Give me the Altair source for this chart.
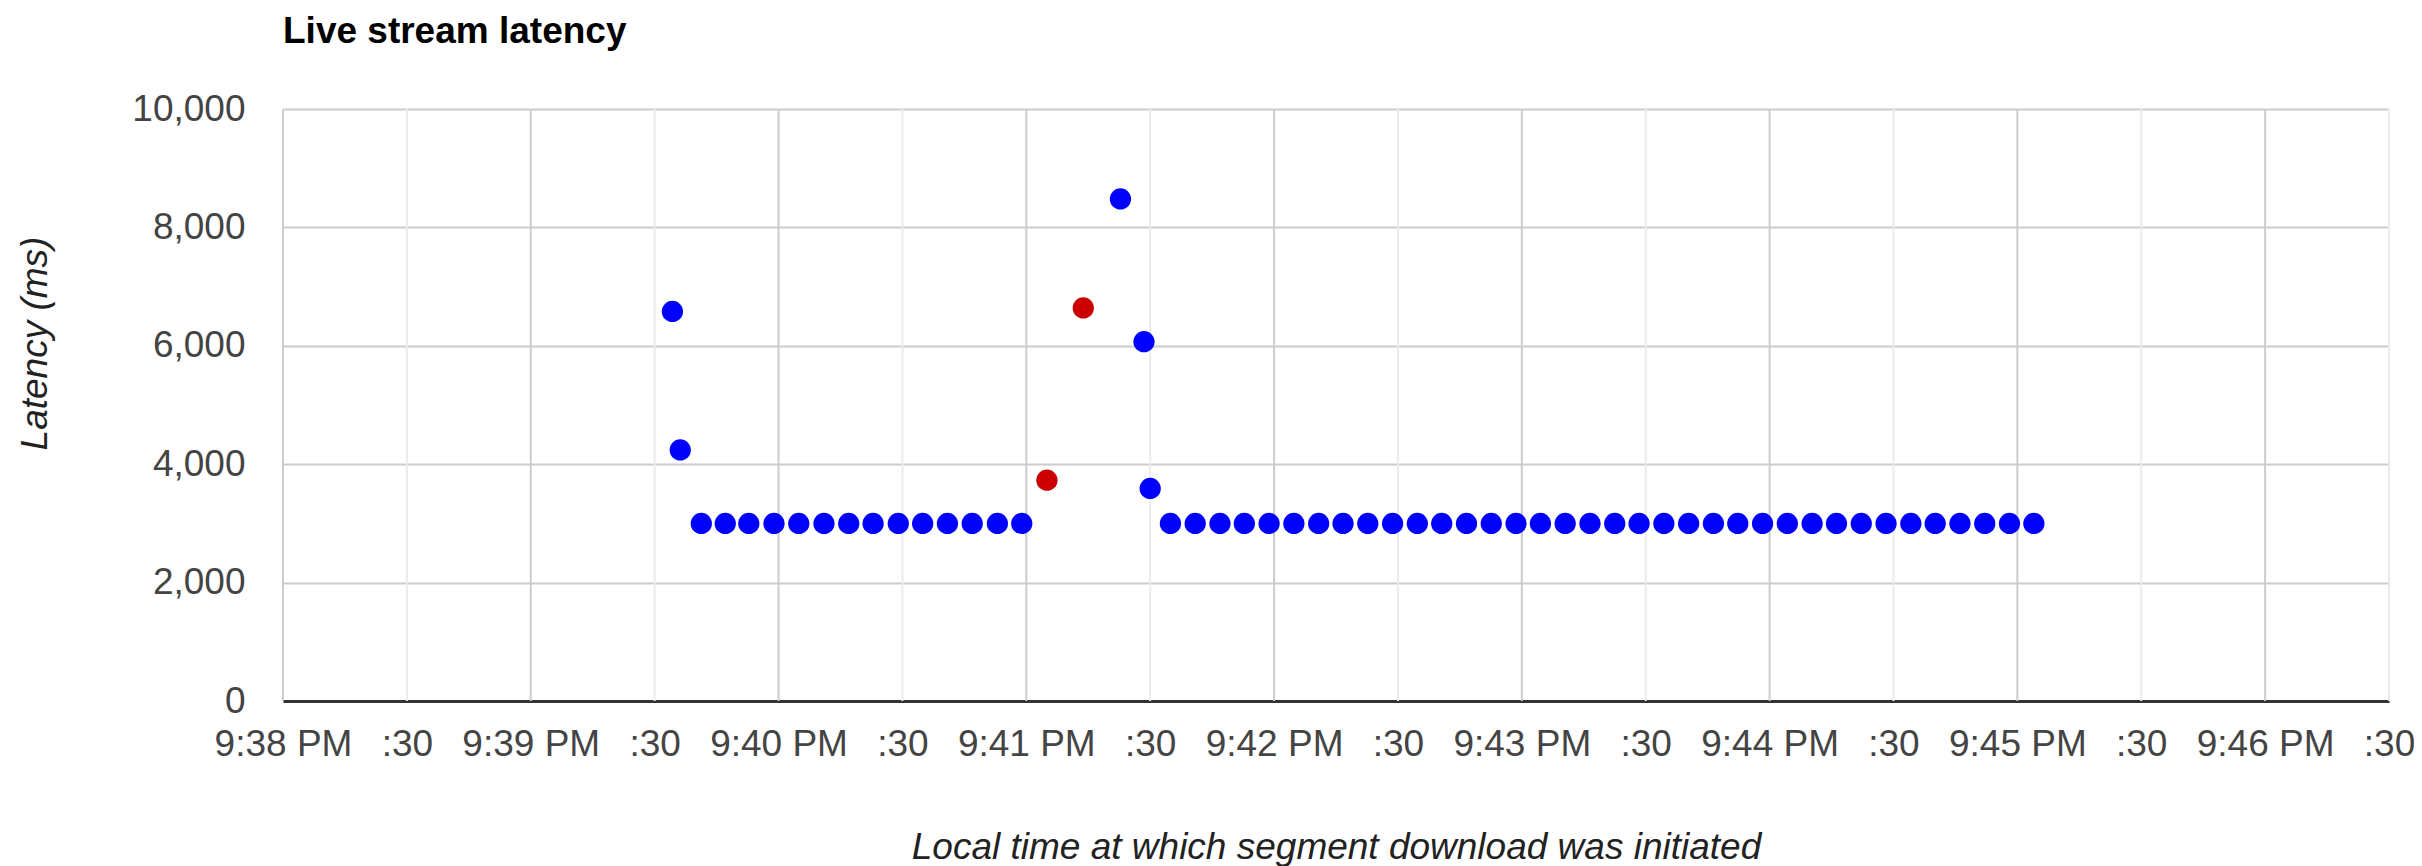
import altair as alt
import pandas as pd

chart_title = "Live stream latency"
x_title = "Local time at which segment download was initiated"
y_title = "Latency (ms)"

day = "2015-06-01T"
times = [
    "21:39:34.300", "21:39:36.200",
    "21:39:41.300", "21:39:47.100", "21:39:52.800", "21:39:58.900", "21:40:04.900",
    "21:40:11.000", "21:40:17.000", "21:40:22.900", "21:40:29.000", "21:40:34.900",
    "21:40:40.900", "21:40:46.900", "21:40:53.000", "21:40:58.900",
    "21:41:05.000", "21:41:13.800",
    "21:41:22.800", "21:41:28.500", "21:41:30.000",
    "21:41:34.900", "21:41:40.900", "21:41:46.900", "21:41:52.800", "21:41:58.800",
    "21:42:04.800", "21:42:10.800", "21:42:16.700", "21:42:22.700", "21:42:28.700",
    "21:42:34.700", "21:42:40.600", "21:42:46.600", "21:42:52.600", "21:42:58.600",
    "21:43:04.500", "21:43:10.500", "21:43:16.500", "21:43:22.500", "21:43:28.400",
    "21:43:34.400", "21:43:40.400", "21:43:46.400", "21:43:52.300", "21:43:58.300",
    "21:44:04.300", "21:44:10.300", "21:44:16.200", "21:44:22.200", "21:44:28.200",
    "21:44:34.200", "21:44:40.100", "21:44:46.100", "21:44:52.100", "21:44:58.100",
    "21:45:04.000",
]
latency = [
    6580, 4240,
    3000, 3000, 3000, 3000, 3000,
    3000, 3000, 3000, 3000, 3000,
    3000, 3000, 3000, 3000,
    3730, 6640,
    8480, 6070, 3590,
    3000, 3000, 3000, 3000, 3000,
    3000, 3000, 3000, 3000, 3000,
    3000, 3000, 3000, 3000, 3000,
    3000, 3000, 3000, 3000, 3000,
    3000, 3000, 3000, 3000, 3000,
    3000, 3000, 3000, 3000, 3000,
    3000, 3000, 3000, 3000, 3000,
    3000,
]
status = ["ok"] * 16 + ["stall"] * 2 + ["ok"] * 39
status_names = ["ok", "stall"]
status_colors = ["#0000ff", "#cc0000"]
y_ticks = [0, 2000, 4000, 6000, 8000, 10000]

# x tick positions (minute / half-minute)
tick_times = [
    "21:38:00", "21:38:30", "21:39:00", "21:39:30", "21:40:00", "21:40:30",
    "21:41:00", "21:41:30", "21:42:00", "21:42:30", "21:43:00", "21:43:30",
    "21:44:00", "21:44:30", "21:45:00", "21:45:30", "21:46:00", "21:46:30",
]
tick_kind = ["major", "minor"] * 9

df = pd.DataFrame({
    "time": [day + t for t in times],
    "latency": latency,
    "status": status,
})
grid_df = pd.DataFrame({
    "time": [day + t for t in tick_times],
    "kind": tick_kind,
})

FONT = "Liberation Sans"

x_scale = alt.Scale(domain=[day + tick_times[0], day + tick_times[-1]], nice=False)

x_axis = alt.Axis(
    title=x_title,
    values=[alt.DateTime(year=2015, month=6, date=1, hours=21, minutes=38 + i // 2, seconds=30 * (i % 2)) for i in range(18)],
    labelExpr="seconds(datum.value) == 0 ? timeFormat(datum.value, '%-I:%M %p') : ':30'",
    labelFont=FONT, labelFontSize=37, labelColor="#444444",
    labelBaseline="middle", labelPadding=43,
    labelFlush=False, labelOverlap=False, labelBound=False,
    ticks=False, tickSize=0,
    grid=False,
    domain=True, domainColor="#333333", domainWidth=3,
    titleFont=FONT, titleFontSize=37, titleFontStyle="italic", titleFontWeight="normal",
    titleColor="#222222", titleBaseline="middle", titleY=146,
)

y_axis = alt.Axis(
    title=y_title,
    values=y_ticks,
    format=",d",
    labelFont=FONT, labelFontSize=37, labelColor="#444444",
    labelPadding=38, labelFlush=False, labelOverlap=False,
    ticks=False, tickSize=0,
    grid=True, gridColor="#cccccc", gridWidth=2,
    domain=False,
    titleFont=FONT, titleFontSize=37, titleFontStyle="italic", titleFontWeight="normal",
    titleColor="#222222", titleAngle=270, titleAlign="center", titleBaseline="middle",
    titleX=-248, titleY=234,
)

grid = alt.Chart(grid_df).mark_rule(strokeWidth=2).encode(
    x=alt.X("time:T", scale=x_scale, axis=x_axis),
    color=alt.Color("kind:N", scale=alt.Scale(domain=["major", "minor"], range=["#cccccc", "#ebebeb"]), legend=None),
)

points = alt.Chart(df).mark_circle(size=452, opacity=1).encode(
    x=alt.X("time:T", scale=x_scale, axis=x_axis),
    y=alt.Y("latency:Q", scale=alt.Scale(domain=[0, 10000], nice=False), axis=y_axis),
    fill=alt.Fill("status:N", scale=alt.Scale(domain=status_names, range=status_colors), legend=None),
)

chart = alt.layer(grid, points).resolve_scale(color="independent", fill="independent").properties(
    width=2106,
    height=592,
    title=alt.Title(
        chart_title, anchor="start", frame="group", font=FONT, fontSize=37,
        fontWeight="bold", color="#000000", baseline="alphabetic", offset=10,
    ),
    padding={"left": 275, "top": 101, "right": 25, "bottom": 165},
    autosize="none",
).configure_view(stroke=None)

chart.save("out.html", embed_options={"renderer": "svg", "actions": False})
